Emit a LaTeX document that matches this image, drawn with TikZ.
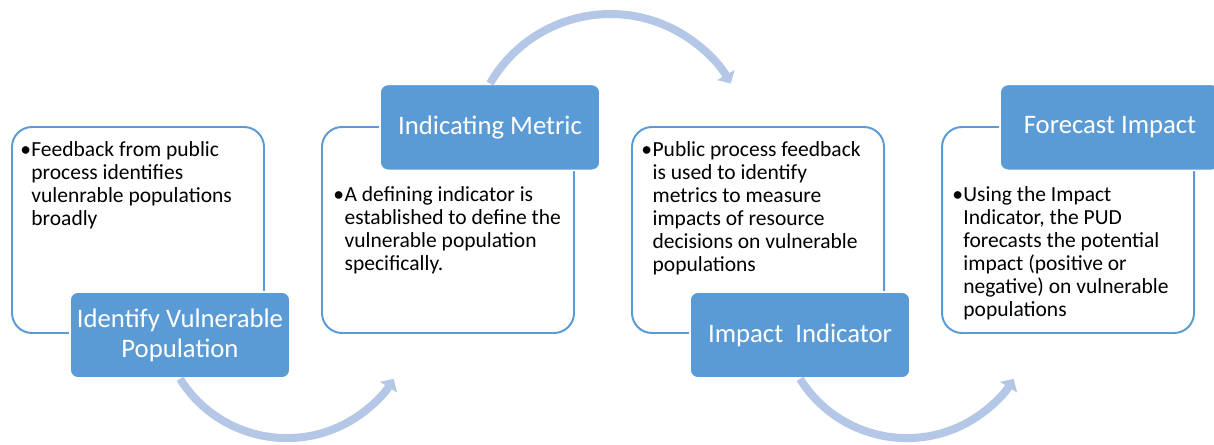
\documentclass[tikz,border=0pt]{standalone}
\usepackage{fontspec}
\setmainfont{Carlito}
\usetikzlibrary{arrows.meta}
\definecolor{tagblue}{HTML}{5B9BD5}
\definecolor{flowblue}{HTML}{B4C7E7}

\tikzset{
  panel/.style={draw=tagblue, line width=1.4pt, rounded corners=0.5cm, fill=white,
    minimum width=6.3cm, minimum height=5.15cm},
  tag/.style={draw=white, line width=1.2pt, fill=tagblue, rounded corners=0.2cm,
    minimum width=5.5cm, minimum height=2.15cm, text=white, align=center,
    font=\fontsize{19}{21.3}\selectfont},
  body/.style={anchor=north west, inner sep=0pt, font=\fontsize{15.3}{16.4}\selectfont},
  flow/.style={draw=flowblue, line width=5.7pt, -{Triangle[length=7pt,width=14pt]}}
}

\begin{document}
\begin{tikzpicture}
    \useasboundingbox (0,0) rectangle (30.35,11.125);

    % 外框
    \node[panel] (box1) at (3.45,5.375) {};
    \node[panel] (box2) at (11.2,5.375) {};
    \node[panel] (box3) at (18.95,5.375) {};
    \node[panel] (box4) at (26.7,5.375) {};

    % 标题框
    \node[tag] (tag1) at (4.5,2.75) {Identify Vulnerable\\Population};
    \node[tag] (tag2) at (12.25,7.94) {Indicating Metric};
    \node[tag] (tag3) at (20.0,2.75) {Impact\ \ Indicator};
    \node[tag] (tag4) at (27.75,7.94) {Forecast Impact};

    % 正文
    \node[body] (txt1) at (0.5,7.62) {\begin{tabular}{@{}l@{\hspace{0.3pt}}l@{}}
      \textbullet & Feedback from public\\ & process identifies\\ & vulenrable populations\\ & broadly
    \end{tabular}};
    \node[body] (txt2) at (8.33,6.5) {\begin{tabular}{@{}l@{\hspace{0.3pt}}l@{}}
      \textbullet & A defining indicator is\\ & established to define the\\ & vulnerable population\\ & specifically.
    \end{tabular}};
    \node[body] (txt3) at (16.03,7.62) {\begin{tabular}{@{}l@{\hspace{0.3pt}}l@{}}
      \textbullet & Public process feedback\\ & is used to identify\\ & metrics to measure\\ & impacts of resource\\ & decisions on vulnerable\\ & populations
    \end{tabular}};
    \node[body] (txt4) at (23.8,6.5) {\begin{tabular}{@{}l@{\hspace{0.3pt}}l@{}}
      \textbullet & Using the Impact\\ & Indicator, the PUD\\ & forecasts the potential\\ & impact (positive or\\ & negative) on vulnerable\\ & populations
    \end{tabular}};

    % 弧形箭头
    \draw[flow] (tag1.south) arc[start angle=212, end angle=328, radius=3.15];
    \draw[flow] (tag2.north) arc[start angle=150, end angle=30, radius=3.475];
    \draw[flow] (tag3.south) arc[start angle=212, end angle=328, radius=3.15];
\end{tikzpicture}
\end{document}
